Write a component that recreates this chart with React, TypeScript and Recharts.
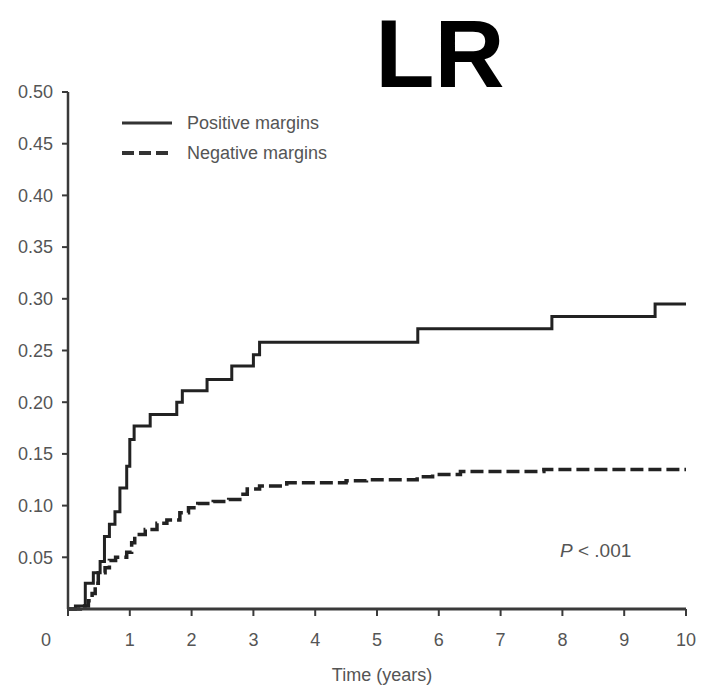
import { LineChart, Line, XAxis, YAxis, Label } from 'recharts'

// cumulative incidence, step curves (time in years)
const posTimes = [0, 0.12, 0.28, 0.41, 0.52, 0.59, 0.67, 0.76, 0.84, 0.95, 1.0, 1.07, 1.33, 1.76, 1.85, 2.25, 2.65, 3.0, 3.1, 5.66, 7.83, 9.5, 10]
const posValues = [0, 0.003, 0.025, 0.035, 0.046, 0.07, 0.082, 0.094, 0.117, 0.138, 0.164, 0.177, 0.188, 0.2, 0.211, 0.222, 0.235, 0.246, 0.258, 0.271, 0.283, 0.295, 0.295]

const negTimes = [0, 0.2, 0.33, 0.39, 0.44, 0.49, 0.6, 0.67, 0.77, 0.95, 1.03, 1.08, 1.25, 1.44, 1.6, 1.81, 1.95, 2.1, 2.35, 2.6, 2.78, 2.9, 3.1, 3.54, 4.5, 4.83, 5.65, 5.9, 6.35, 7.7, 10]
const negValues = [0, 0.003, 0.008, 0.015, 0.025, 0.035, 0.04, 0.047, 0.05, 0.055, 0.064, 0.072, 0.077, 0.083, 0.086, 0.093, 0.098, 0.102, 0.104, 0.106, 0.111, 0.116, 0.119, 0.122, 0.124, 0.125, 0.128, 0.13, 0.133, 0.135, 0.135]

const xTicks = [0, 1, 2, 3, 4, 5, 6, 7, 8, 9, 10]
const yTicks = [0.05, 0.1, 0.15, 0.2, 0.25, 0.3, 0.35, 0.4, 0.45, 0.5]

const positive = posTimes.map((t, i) => ({ t, v: posValues[i] }))
const negative = negTimes.map((t, i) => ({ t, v: negValues[i] }))

const font = '"Liberation Sans", Arial, sans-serif'
const axisColor = '#3a3a3a'
const textColor = '#555'

function XTick({ x, y, payload }: any) {
  // the "0" label sits left of the origin in the original figure
  const shift = payload.value === 0 ? -22 : 0
  return (
    <text x={x + shift} y={y} dy="0.71em" textAnchor="middle" fill={textColor} fontSize={18} fontFamily={font}>
      {payload.value}
    </text>
  )
}

function LegendBox() {
  return (
    <div
      style={{
        position: 'absolute', left: 122, top: 108, fontFamily: font, fontSize: 18,
        color: textColor, lineHeight: '30px',
      }}
    >
      <div style={{ display: 'flex', alignItems: 'center' }}>
        <svg width={52} height={10}><line x1={0} y1={5} x2={50} y2={5} stroke="#333" strokeWidth={3} /></svg>
        <span style={{ marginLeft: 13 }}>Positive margins</span>
      </div>
      <div style={{ display: 'flex', alignItems: 'center' }}>
        <svg width={52} height={10}><line x1={0} y1={5} x2={50} y2={5} stroke="#333" strokeWidth={4} strokeDasharray="12 5" /></svg>
        <span style={{ marginLeft: 13 }}>Negative margins</span>
      </div>
    </div>
  )
}

export default function App() {
  return (
    <div style={{ position: 'relative', width: 702, height: 690, background: '#fff' }}>
      <style>{'body{margin:0}'}</style>
      <svg width={702} height={110} style={{ position: 'absolute', left: 0, top: 0 }}>
        <text x={440} y={87} textAnchor="middle" fontFamily={font} fontWeight="bold" fontSize={97} fill="#000">
          LR
        </text>
      </svg>
      <LineChart width={702} height={690} margin={{ top: 92, right: 16, left: 0, bottom: 3 }}>
        <XAxis
          dataKey="t"
          type="number"
          domain={[0, 10]}
          ticks={xTicks}
          allowDuplicatedCategory={false}
          height={78}
          tickSize={7}
          tickMargin={17}
          tick={<XTick />}
          axisLine={{ stroke: axisColor, strokeWidth: 3 }}
          tickLine={{ stroke: axisColor, strokeWidth: 2 }}
        >
          <Label
            value="Time (years)"
            position="insideBottom"
            offset={6}
            dx={5}
            style={{ fontFamily: font, fontSize: 18, fill: textColor }}
          />
        </XAxis>
        <YAxis
          type="number"
          domain={[0, 0.5]}
          ticks={yTicks}
          width={68}
          tickSize={6}
          tickMargin={9}
          tickFormatter={(v: number) => v.toFixed(2)}
          tick={{ fontSize: 18, fill: textColor, fontFamily: font }}
          axisLine={{ stroke: axisColor, strokeWidth: 2.5 }}
          tickLine={{ stroke: axisColor, strokeWidth: 2 }}
        />
        <Line
          data={positive}
          dataKey="v"
          name="Positive margins"
          type="stepAfter"
          stroke="#222"
          strokeWidth={3}
          dot={false}
          isAnimationActive={false}
        />
        <Line
          data={negative}
          dataKey="v"
          name="Negative margins"
          type="stepAfter"
          stroke="#222"
          strokeWidth={3.5}
          strokeDasharray="13 5"
          dot={false}
          isAnimationActive={false}
        />
      </LineChart>
      <LegendBox />
      <div
        style={{
          position: 'absolute', left: 560, top: 540, fontFamily: font, fontSize: 19, color: textColor,
        }}
      >
        <i>P</i> &lt; .001
      </div>
    </div>
  )
}
